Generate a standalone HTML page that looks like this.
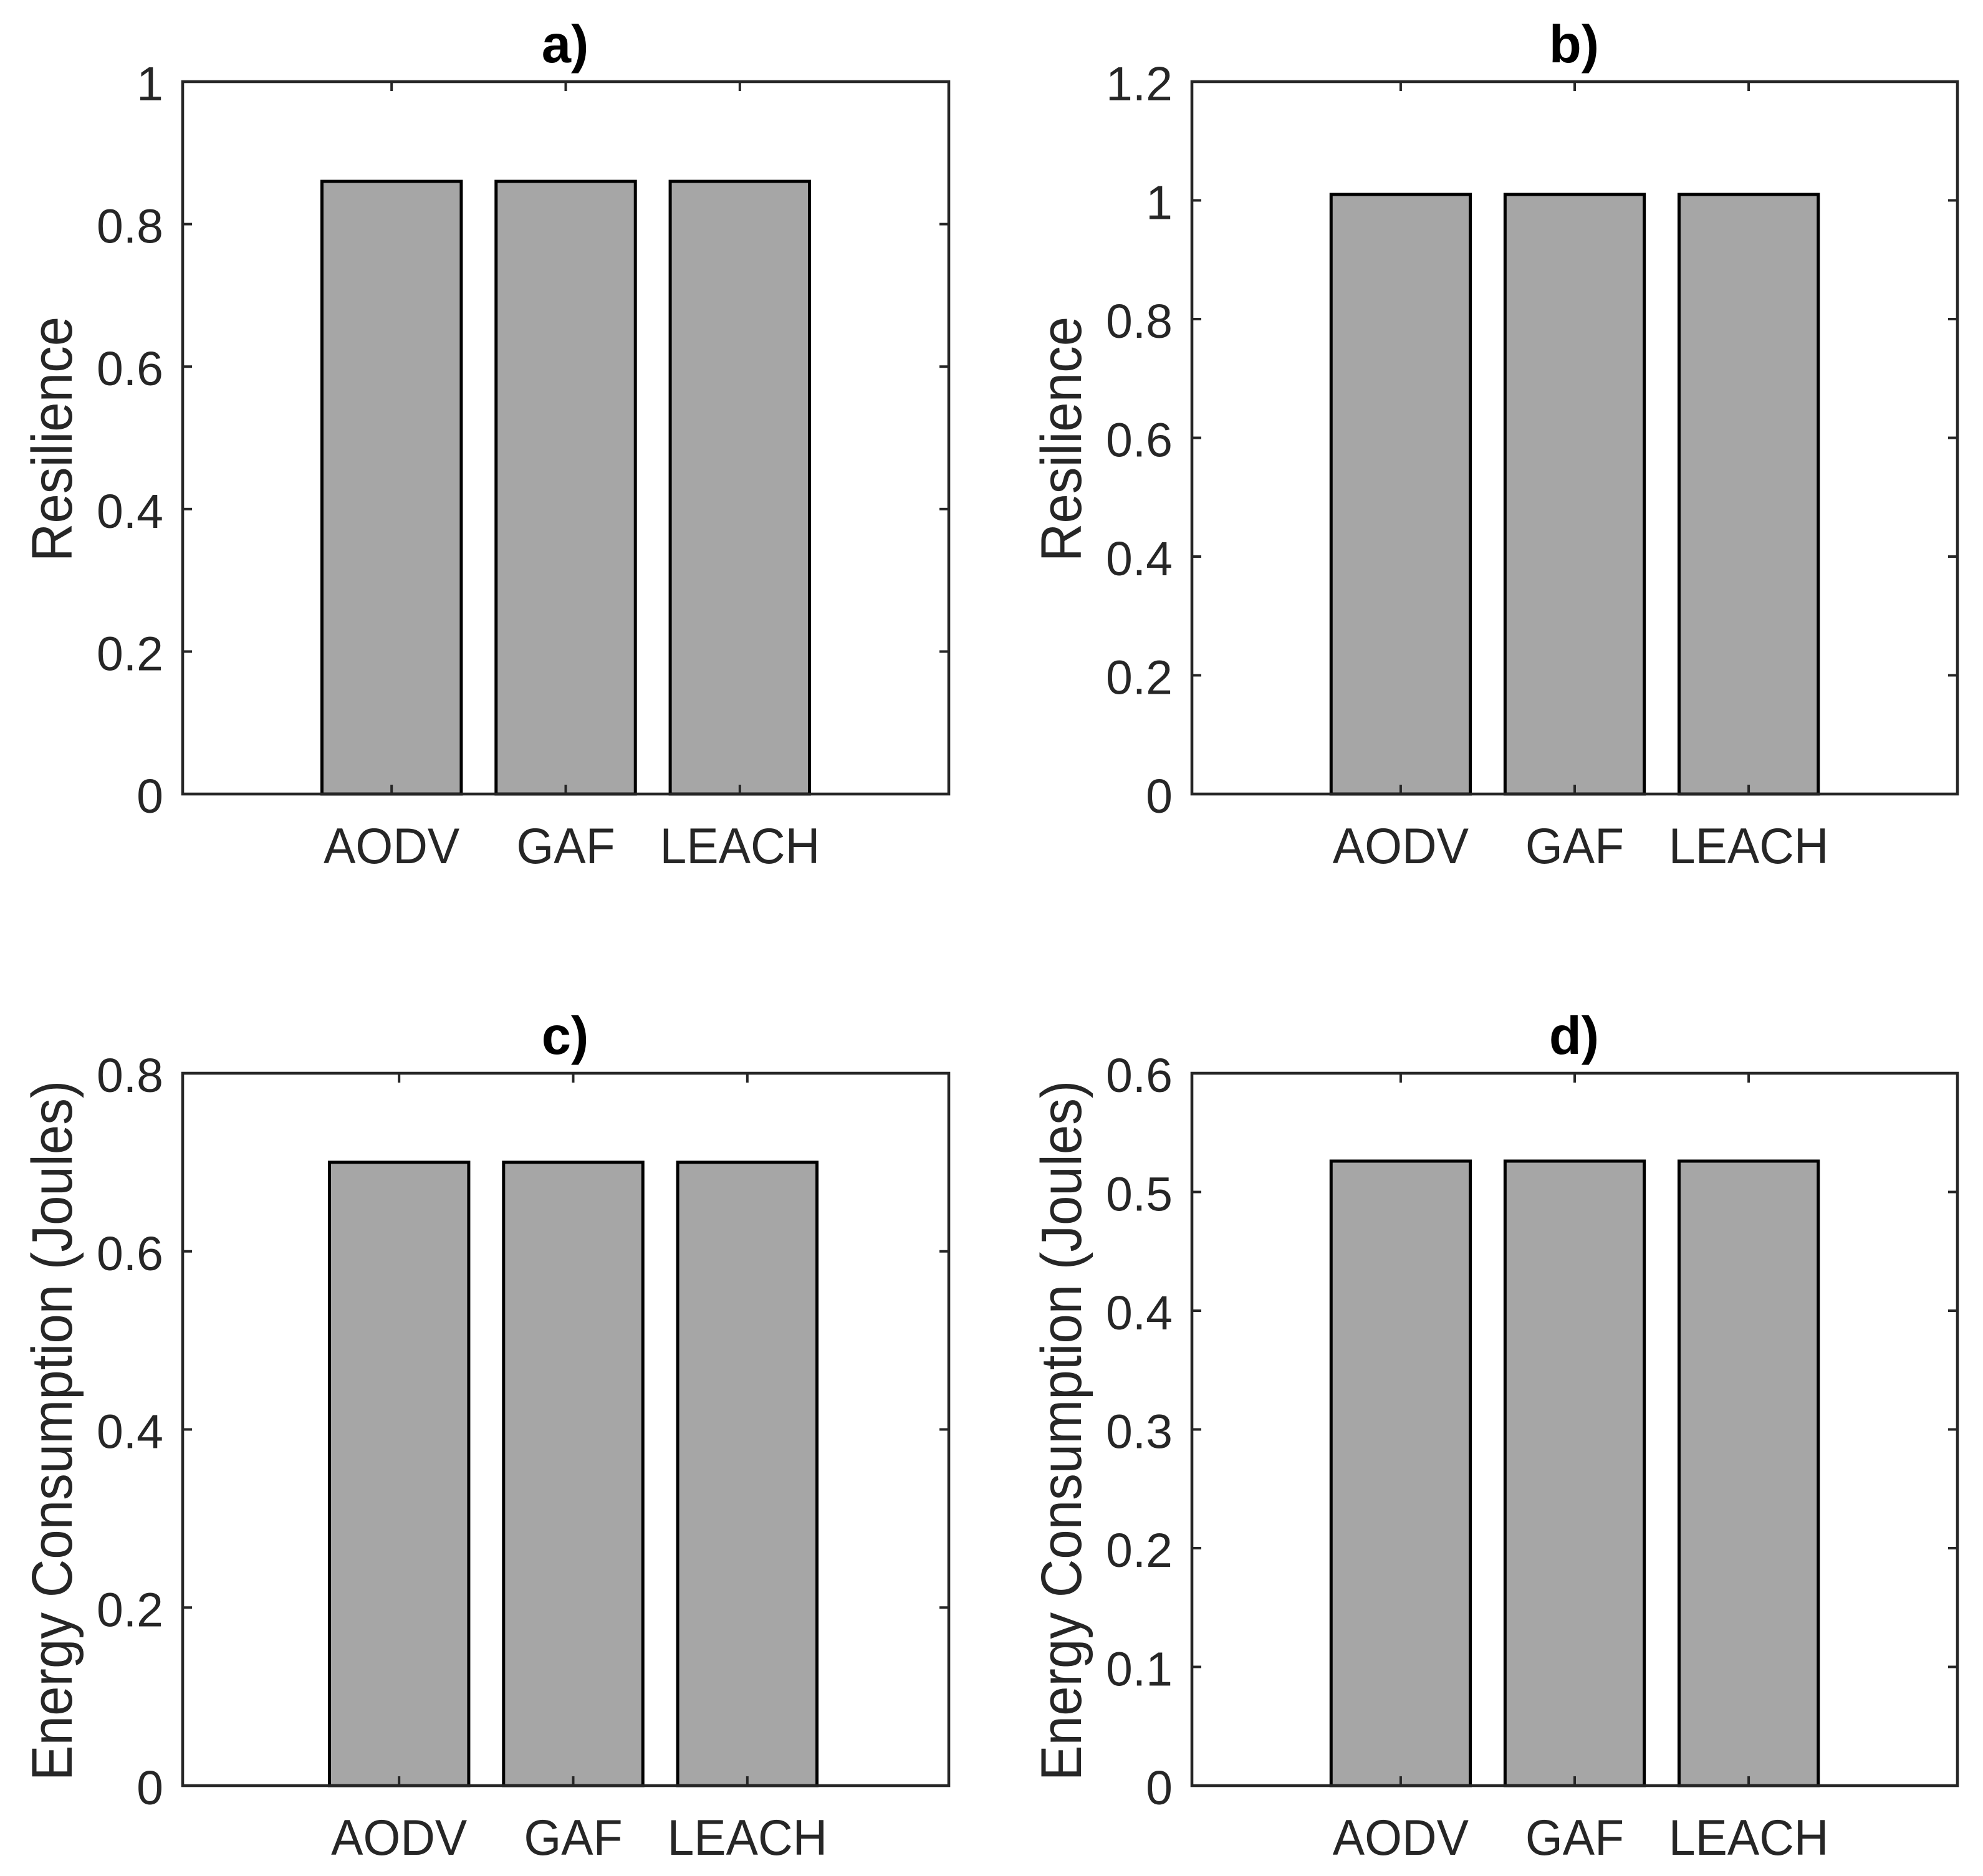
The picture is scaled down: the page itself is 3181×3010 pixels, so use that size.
<!DOCTYPE html>
<html>
<head>
<meta charset="utf-8">
<title>Resilience and energy consumption bar charts</title>
<style>
  html, body { margin: 0; padding: 0; background: #ffffff; }
  svg { display: block; }
  text { font-family: "Liberation Sans", Arial, sans-serif; }
</style>
</head>
<body>
<svg id="chart" xmlns="http://www.w3.org/2000/svg" width="3181" height="3010" viewBox="0 0 3181 3010">
  <rect x="0" y="0" width="3181" height="3010" fill="#ffffff"></rect>
</svg>
<script>
const categories = ["AODV", "GAF", "LEACH"];
const valuesA = [0.86, 0.86, 0.86];
const valuesB = [1.01, 1.01, 1.01];
const valuesC = [0.70, 0.70, 0.70];
const valuesD = [0.526, 0.526, 0.526];
const yTicksA = [0, 0.2, 0.4, 0.6, 0.8, 1];
const yTicksB = [0, 0.2, 0.4, 0.6, 0.8, 1, 1.2];
const yTicksC = [0, 0.2, 0.4, 0.6, 0.8];
const yTicksD = [0, 0.1, 0.2, 0.3, 0.4, 0.5, 0.6];
const titleA = "a)";
const titleB = "b)";
const titleC = "c)";
const titleD = "d)";
const yLabelTop = "Resilience";
const yLabelBottom = "Energy Consumption (Joules)";

const NS = "http://www.w3.org/2000/svg";
const svg = document.getElementById("chart");
const AXIS = "#262626";
const TICK_FONT = 77;
const LABEL_FONT = 85.3;
const STRETCH = 1.05;

function make(tag, attrs, parent) {
  const el = document.createElementNS(NS, tag);
  for (const k in attrs) el.setAttribute(k, attrs[k]);
  parent.appendChild(el);
  return el;
}

function drawPanel(key, box, xMin, xMax, yMax, values, yTicks, title, yLabel) {
  const xScale = v => box.left + (v - xMin) / (xMax - xMin) * (box.right - box.left);
  const yScale = v => box.bottom - v / yMax * (box.bottom - box.top);

  const g = make("g", {}, svg);
  
  

  values.forEach((v, i) => {
    const x0 = xScale(i + 1 - 0.4);
    const x1 = xScale(i + 1 + 0.4);
    const y0 = yScale(v);
    const bar = make("rect", { x: x0, y: y0, width: x1 - x0, height: box.bottom - y0, fill: "#a6a6a6", stroke: "#000000", "stroke-width": 5 }, g);
    
    
  });

  const frame = make("rect", { x: box.left, y: box.top, width: box.right - box.left, height: box.bottom - box.top, fill: "none", stroke: AXIS, "stroke-width": 4.6 }, g);
  
  

  categories.forEach((c, i) => {
    const x = xScale(i + 1);
    const bottomTick = make("line", { x1: x, x2: x, y1: box.bottom, y2: box.bottom - 15, stroke: AXIS, "stroke-width": 4 }, g);
    
    
    const topTick = make("line", { x1: x, x2: x, y1: box.top, y2: box.top + 15, stroke: AXIS, "stroke-width": 4 }, g);
    
    
    const label = make("text", { transform: "translate(" + x + "," + (box.bottom + 111) + ") scale(1," + STRETCH + ")", "text-anchor": "middle", "font-size": TICK_FONT, fill: AXIS }, g);
    
    
    label.textContent = c;
  });

  yTicks.forEach(t => {
    const y = yScale(t);
    if (t !== 0 && t !== yMax) {
      const leftTick = make("line", { x1: box.left, x2: box.left + 15, y1: y, y2: y, stroke: AXIS, "stroke-width": 4 }, g);
      
      
      const rightTick = make("line", { x1: box.right, x2: box.right - 15, y1: y, y2: y, stroke: AXIS, "stroke-width": 4 }, g);
      
      
    }
    const label = make("text", { x: box.left - 31, y: y + 30, "text-anchor": "end", "font-size": TICK_FONT, fill: AXIS }, g);
    
    
    label.textContent = String(t);
  });

  const yTitle = make("text", { transform: "translate(" + (box.left - 178) + "," + ((box.top + box.bottom) / 2 + 2) + ") rotate(-90) scale(1,1.08)", "text-anchor": "middle", "font-size": LABEL_FONT, fill: AXIS }, g);
  
  
  yTitle.textContent = yLabel;

  const heading = make("text", { transform: "translate(" + ((box.left + box.right) / 2 - 1) + "," + (box.top - 31) + ")", "text-anchor": "middle", "font-size": 85, "font-weight": "bold", fill: "#000000" }, g);
  
  
  heading.textContent = title;
}

drawPanel("a", { left: 293, right: 1522, top: 131, bottom: 1274 }, -0.2, 4.2, 1, valuesA, yTicksA, titleA, yLabelTop);
drawPanel("b", { left: 1912, right: 3140, top: 131, bottom: 1274 }, -0.2, 4.2, 1.2, valuesB, yTicksB, titleB, yLabelTop);
drawPanel("c", { left: 293, right: 1522, top: 1722, bottom: 2865 }, -0.243, 4.157, 0.8, valuesC, yTicksC, titleC, yLabelBottom);
drawPanel("d", { left: 1912, right: 3140, top: 1722, bottom: 2865 }, -0.2, 4.2, 0.6, valuesD, yTicksD, titleD, yLabelBottom);
</script>
</body>
</html>
